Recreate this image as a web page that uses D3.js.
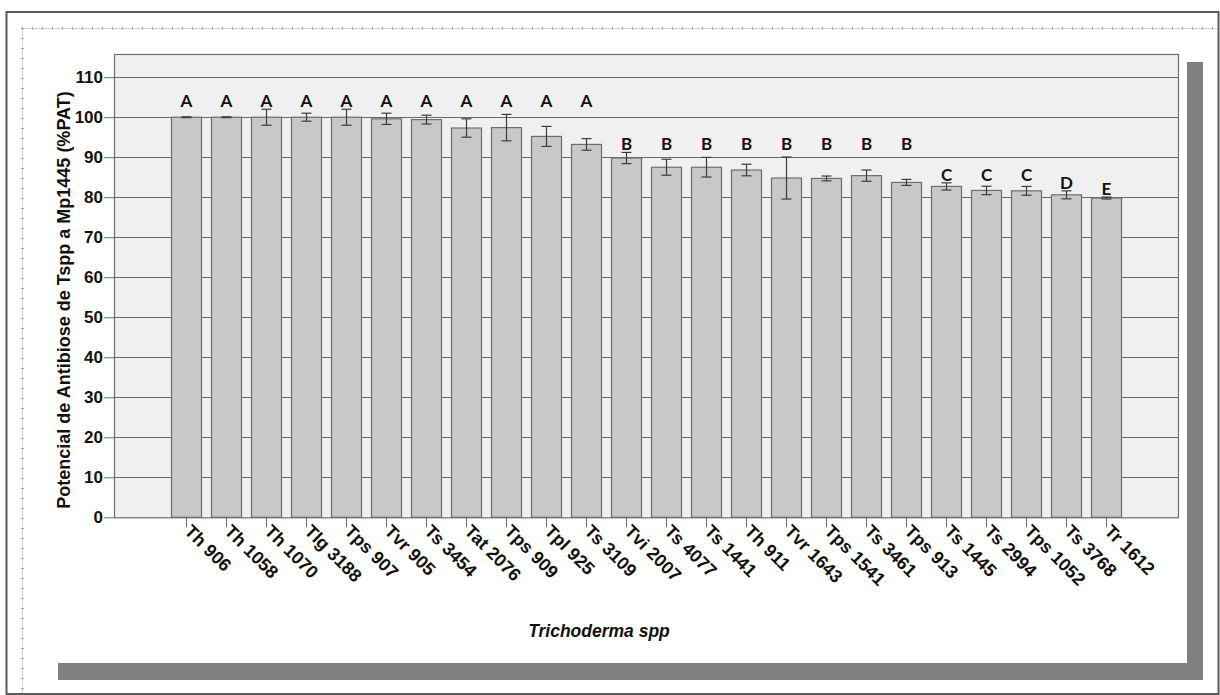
<!DOCTYPE html>
<html>
<head>
<meta charset="utf-8">
<script src="https://cdn.jsdelivr.net/npm/d3@7/dist/d3.min.js"></script>
<style>
  html, body { margin: 0; padding: 0; background: #ffffff; }
  svg { display: block; }
</style>
</head>
<body>
<svg id="chart" width="1220" height="695"></svg>
<script>
// ---------- data ----------
const categories = ["Th 906","Th 1058","Th 1070","Tlg 3188","Tps 907","Tvr 905","Ts 3454","Tat 2076","Tps 909","Tpl 925","Ts 3109","Tvi 2007","Ts 4077","Ts 1441","Th 911","Tvr 1643","Tps 1541","Ts 3461","Tps 913","Ts 1445","Ts 2994","Tps 1052","Ts 3768","Tr 1612"];
const means  = [100, 100, 100, 100, 100, 99.6, 99.4, 97.3, 97.4, 95.2, 93.2, 89.8, 87.5, 87.5, 86.8, 84.8, 84.7, 85.4, 83.7, 82.7, 81.7, 81.6, 80.6, 79.8];
const errors = [0.1, 0.1, 2.0, 1.0, 2.0, 1.4, 1.1, 2.3, 3.3, 2.5, 1.45, 1.4, 2.0, 2.45, 1.45, 5.25, 0.6, 1.4, 0.75, 0.9, 1.05, 1.1, 1.0, 0.25];
const letters = ["A","A","A","A","A","A","A","A","A","A","A","B","B","B","B","B","B","B","B","C","C","C","D","E"];
const yTicks = [0, 10, 20, 30, 40, 50, 60, 70, 80, 90, 100, 110];
const yTitle = "Potencial de Antibiose de Tspp a Mp1445 (%PAT)";
const xTitle = "Trichoderma spp";

// ---------- layout ----------
const svg = d3.select("#chart");
const plot = { left: 114, right: 1178, top: 54, bottom: 517.3 };

const x = d3.scaleBand()
  .domain(categories)
  .range([plot.left, plot.right])
  .paddingInner(0.25)
  .paddingOuter(1.425);

const y = d3.scaleLinear()
  .domain([0, 115.8])
  .range([plot.bottom, plot.top]);

// outer frame
svg.append("rect")
  .attr("x", 6.5).attr("y", 12).attr("width", 1212).attr("height", 682)
  .attr("fill", "#ffffff").attr("stroke", "#5a5a5a").attr("stroke-width", 2);

// ruler-like dotted guides
const guide = svg.append("g");
guide.append("line").attr("x1", 22).attr("x2", 1217).attr("y1", 28.5).attr("y2", 28.5)
  .attr("stroke", "#d4d4d4").attr("stroke-width", 1);
guide.append("line").attr("x1", 22.5).attr("x2", 22.5).attr("y1", 28).attr("y2", 693)
  .attr("stroke", "#d4d4d4").attr("stroke-width", 1);
guide.append("line").attr("x1", 22).attr("x2", 1217).attr("y1", 28.5).attr("y2", 28.5)
  .attr("stroke", "#a8a8a8").attr("stroke-width", 3).attr("stroke-dasharray", "1,9");
guide.append("line").attr("x1", 22.5).attr("x2", 22.5).attr("y1", 28).attr("y2", 693)
  .attr("stroke", "#a8a8a8").attr("stroke-width", 3).attr("stroke-dasharray", "1,9");

// drop-shadow bars
svg.append("rect").attr("x", 1187).attr("y", 62).attr("width", 16).attr("height", 618).attr("fill", "#808080");
svg.append("rect").attr("x", 58).attr("y", 663).attr("width", 1145).attr("height", 17).attr("fill", "#808080");

// plot background
svg.append("rect")
  .attr("x", plot.left).attr("y", plot.top)
  .attr("width", plot.right - plot.left).attr("height", plot.bottom - plot.top)
  .attr("fill", "#f0f0f0");

// gridlines
svg.append("g").selectAll("line")
  .data(yTicks.filter(d => d > 0))
  .join("line")
  .attr("x1", plot.left).attr("x2", plot.right)
  .attr("y1", d => Math.round(y(d)) + 0.5).attr("y2", d => Math.round(y(d)) + 0.5)
  .attr("stroke", "#6a6a6a").attr("stroke-width", 1.2);

// bars
svg.append("g").selectAll("rect")
  .data(categories)
  .join("rect")
  .attr("x", d => x(d) + 0.5)
  .attr("y", (d, i) => y(means[i]))
  .attr("width", x.bandwidth())
  .attr("height", (d, i) => y(0) - y(means[i]))
  .attr("fill", "#c8c8c8")
  .attr("stroke", "#6e6e6e")
  .attr("stroke-width", 1.2);

// plot border
svg.append("rect")
  .attr("x", plot.left + 0.5).attr("y", plot.top + 0.5)
  .attr("width", plot.right - plot.left).attr("height", plot.bottom - plot.top)
  .attr("fill", "none").attr("stroke", "#6e6e6e").attr("stroke-width", 1.2);

// error bars
const eb = svg.append("g").attr("stroke", "#3c3c3c").attr("stroke-width", 1.2);
categories.forEach((c, i) => {
  const cx = x(c) + x.bandwidth() / 2 + 0.5;
  const hi = y(means[i] + errors[i]);
  const lo = y(means[i] - errors[i]);
  eb.append("line").attr("x1", cx).attr("x2", cx).attr("y1", hi).attr("y2", lo);
  eb.append("line").attr("x1", cx - 5).attr("x2", cx + 5).attr("y1", hi).attr("y2", hi);
  eb.append("line").attr("x1", cx - 5).attr("x2", cx + 5).attr("y1", lo).attr("y2", lo);
});

// significance letters: placed per group above the group's highest error bar
const groupTop = {};
letters.forEach((l, i) => {
  groupTop[l] = Math.max(groupTop[l] || 0, means[i] + errors[i]);
});
svg.append("g").selectAll("text")
  .data(categories)
  .join("text")
  .attr("x", d => x(d) + x.bandwidth() / 2 + 0.5)
  .attr("y", (d, i) => y(groupTop[letters[i]]) - 2)
  .attr("text-anchor", "middle")
  .attr("font-family", "Lato, 'Open Sans', sans-serif")
  .attr("font-weight", "bold")
  .attr("font-size", 17)
  .attr("fill", "#111")
  .text((d, i) => letters[i]);

// y axis
const yAxis = d3.axisLeft(y).tickValues(yTicks).tickSize(10).tickPadding(1).tickSizeOuter(0);
const gy = svg.append("g").attr("transform", `translate(${plot.left},0)`).call(yAxis);
gy.select(".domain").remove();
gy.selectAll(".tick line").attr("stroke", "#6e6e6e");
gy.selectAll(".tick text")
  .attr("font-family", "'Liberation Sans', Arial, sans-serif")
  .attr("font-weight", "bold").attr("font-size", 17).attr("fill", "#111");

// x axis
const xAxis = d3.axisBottom(x).tickSize(10).tickSizeOuter(0).tickPadding(0);
const gx = svg.append("g").attr("transform", `translate(0.5,${plot.bottom})`).call(xAxis);
gx.select(".domain").remove();
gx.selectAll(".tick line").attr("stroke", "#6e6e6e");
gx.selectAll(".tick text")
  .attr("font-family", "'Liberation Sans', Arial, sans-serif")
  .attr("font-weight", "bold").attr("font-size", 18).attr("fill", "#111")
  .attr("text-anchor", "start")
  .attr("dy", null)
  .attr("y", 0)
  .attr("transform", "translate(-3,15) rotate(45)");

// axis titles
svg.append("text")
  .attr("transform", `translate(70,${300}) rotate(-90)`)
  .attr("text-anchor", "middle")
  .attr("font-family", "'Liberation Sans', Arial, sans-serif")
  .attr("font-weight", "bold").attr("font-size", 18).attr("fill", "#111")
  .text(yTitle);

svg.append("text")
  .attr("x", 599).attr("y", 637)
  .attr("text-anchor", "middle")
  .attr("font-family", "'Liberation Sans', Arial, sans-serif")
  .attr("font-weight", "bold").attr("font-style", "italic").attr("font-size", 17.5).attr("fill", "#111")
  .text(xTitle);
</script>
</body>
</html>
